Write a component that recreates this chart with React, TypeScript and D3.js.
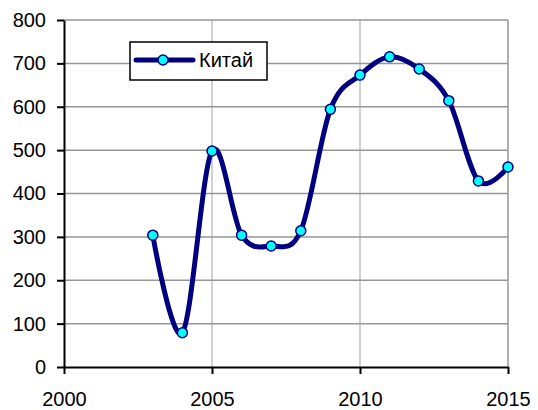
import { useEffect, useRef } from "react";
import * as d3 from "d3";

const years = [2003, 2004, 2005, 2006, 2007, 2008, 2009, 2010, 2011, 2012, 2013, 2014, 2015];
const chinaValues = [304, 79, 498, 304, 279, 314, 594, 673, 715, 687, 614, 429, 461];
const seriesName = "Китай";
const xTicks = [2000, 2005, 2010, 2015];
const yTicks = [0, 100, 200, 300, 400, 500, 600, 700, 800];

const App = () => {
  const svgRef = useRef<SVGSVGElement | null>(null);

  useEffect(() => {
    const W = 538;
    const H = 410;
    const M = { top: 20, right: 30, bottom: 43, left: 64 };

    const x = d3.scaleLinear().domain([2000, 2015]).range([M.left, W - M.right]);
    const y = d3.scaleLinear().domain([0, 800]).range([H - M.bottom, M.top]);

    const svg = d3.select(svgRef.current).attr("width", W).attr("height", H);
    svg.selectAll("*").remove();

    const font = "'Liberation Sans', Arial, sans-serif";

    // vertical gridlines
    svg
      .append("g")
      .selectAll("line")
      .data(xTicks.slice(1, -1))
      .enter()
      .append("line")
      .attr("x1", (d) => x(d))
      .attr("x2", (d) => x(d))
      .attr("y1", y(0))
      .attr("y2", y(800))
      .attr("stroke", "#c0c0c0")
      .attr("stroke-width", 1.5);

    // horizontal gridlines
    svg
      .append("g")
      .selectAll("line")
      .data(yTicks.slice(1))
      .enter()
      .append("line")
      .attr("x1", x(2000))
      .attr("x2", x(2015))
      .attr("y1", (d) => y(d))
      .attr("y2", (d) => y(d))
      .attr("stroke", "#969696")
      .attr("stroke-width", 1.5);

    // right border
    svg
      .append("line")
      .attr("x1", x(2015))
      .attr("x2", x(2015))
      .attr("y1", y(0))
      .attr("y2", y(800))
      .attr("stroke", "#969696")
      .attr("stroke-width", 1.5);

    // axes
    const yAxis = svg
      .append("g")
      .attr("transform", `translate(${x(2000)},0)`)
      .call(d3.axisLeft(y).tickValues(yTicks).tickSize(7).tickPadding(11).tickSizeOuter(0));
    const xAxis = svg
      .append("g")
      .attr("transform", `translate(0,${y(0)})`)
      .call(d3.axisBottom(x).tickValues(xTicks).tickFormat(d3.format("d")).tickSize(7).tickPadding(18).tickSizeOuter(0));

    [yAxis, xAxis].forEach((ax) => {
      ax.select(".domain").attr("stroke", "#000").attr("stroke-width", 2);
      ax.selectAll(".tick line").attr("stroke", "#000").attr("stroke-width", 2);
      ax.selectAll(".tick text")
        .attr("fill", "#000")
        .style("font-family", font)
        .style("font-size", "20px");
    });

    // series line
    const line = d3
      .line<number>()
      .x((_, i) => x(years[i]))
      .y((d) => y(d))
      .curve(d3.curveCatmullRom.alpha(0));

    svg
      .append("path")
      .datum(chinaValues)
      .attr("d", line)
      .attr("fill", "none")
      .attr("stroke", "#000080")
      .attr("stroke-width", 5)
      .attr("stroke-linejoin", "round");

    svg
      .append("g")
      .selectAll("circle")
      .data(chinaValues)
      .enter()
      .append("circle")
      .attr("cx", (_, i) => x(years[i]))
      .attr("cy", (d) => y(d))
      .attr("r", 5)
      .attr("fill", "#00ffff")
      .attr("stroke", "#000080")
      .attr("stroke-width", 1.5);

    // legend
    const legend = svg.append("g");
    legend
      .append("rect")
      .attr("x", 130)
      .attr("y", 42)
      .attr("width", 137)
      .attr("height", 38)
      .attr("fill", "#fff")
      .attr("stroke", "#000")
      .attr("stroke-width", 1.5);
    legend
      .append("line")
      .attr("x1", 136)
      .attr("x2", 193)
      .attr("y1", 60)
      .attr("y2", 60)
      .attr("stroke", "#000080")
      .attr("stroke-width", 5)
      .attr("stroke-linecap", "round");
    legend
      .append("circle")
      .attr("cx", 163)
      .attr("cy", 60)
      .attr("r", 5)
      .attr("fill", "#00ffff")
      .attr("stroke", "#000080")
      .attr("stroke-width", 1.5);
    legend
      .append("text")
      .attr("x", 199)
      .attr("y", 67)
      .style("font-family", font)
      .style("font-size", "20px")
      .text(seriesName);
  }, []);

  return <svg ref={svgRef} style={{ position: "absolute", left: 0, top: 0 }} />;
};

export default App;
